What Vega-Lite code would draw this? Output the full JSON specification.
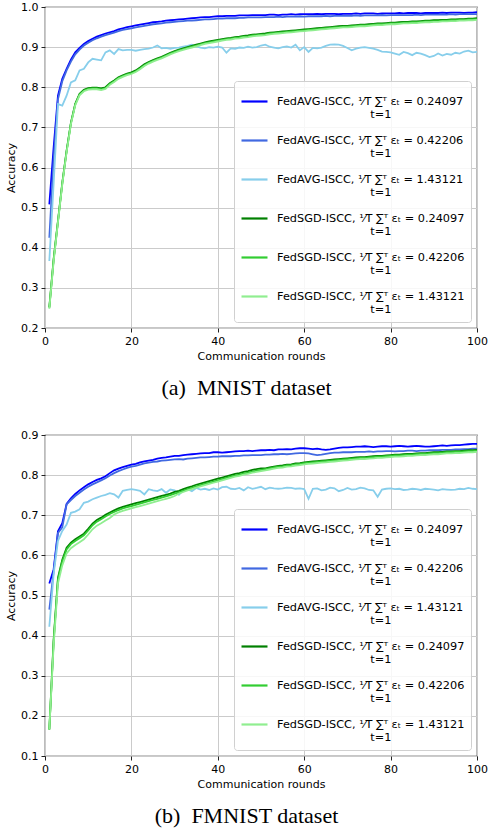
{
  "$schema": "https://vega.github.io/schema/vega-lite/v6.json",
  "padding": {"left": 4, "top": 0, "right": 10, "bottom": 0},
  "spacing": 28,
  "datasets": {
    "mnist": [
      {"r":1,"a1":0.508,"a2":0.425,"a3":0.367,"s1":0.252,"s2":0.25,"s3":0.248},
      {"r":2,"a1":0.65,"a2":0.62,"a3":0.56,"s1":0.372,"s2":0.37,"s3":0.366},
      {"r":3,"a1":0.779,"a2":0.77,"a3":0.758,"s1":0.467,"s2":0.465,"s3":0.463},
      {"r":4,"a1":0.821,"a2":0.815,"a3":0.754,"s1":0.562,"s2":0.56,"s3":0.558},
      {"r":5,"a1":0.846,"a2":0.842,"a3":0.779,"s1":0.642,"s2":0.64,"s3":0.638},
      {"r":6,"a1":0.869,"a2":0.864,"a3":0.812,"s1":0.712,"s2":0.71,"s3":0.708},
      {"r":7,"a1":0.887,"a2":0.882,"a3":0.817,"s1":0.759,"s2":0.757,"s3":0.755},
      {"r":8,"a1":0.898,"a2":0.894,"a3":0.842,"s1":0.784,"s2":0.782,"s3":0.78},
      {"r":9,"a1":0.908,"a2":0.904,"a3":0.846,"s1":0.794,"s2":0.792,"s3":0.79},
      {"r":10,"a1":0.915,"a2":0.911,"a3":0.862,"s1":0.798,"s2":0.796,"s3":0.794},
      {"r":11,"a1":0.921,"a2":0.917,"a3":0.871,"s1":0.799,"s2":0.797,"s3":0.795},
      {"r":12,"a1":0.926,"a2":0.922,"a3":0.869,"s1":0.799,"s2":0.797,"s3":0.795},
      {"r":13,"a1":0.93,"a2":0.926,"a3":0.867,"s1":0.797,"s2":0.795,"s3":0.793},
      {"r":14,"a1":0.934,"a2":0.93,"a3":0.887,"s1":0.8,"s2":0.798,"s3":0.796},
      {"r":15,"a1":0.937,"a2":0.933,"a3":0.892,"s1":0.81,"s2":0.808,"s3":0.806},
      {"r":16,"a1":0.94,"a2":0.936,"a3":0.883,"s1":0.817,"s2":0.815,"s3":0.813},
      {"r":17,"a1":0.944,"a2":0.94,"a3":0.895,"s1":0.825,"s2":0.823,"s3":0.821},
      {"r":18,"a1":0.947,"a2":0.943,"a3":0.892,"s1":0.83,"s2":0.828,"s3":0.826},
      {"r":19,"a1":0.95,"a2":0.945,"a3":0.893,"s1":0.834,"s2":0.832,"s3":0.83},
      {"r":20,"a1":0.952,"a2":0.947,"a3":0.893,"s1":0.837,"s2":0.835,"s3":0.833},
      {"r":21,"a1":0.954,"a2":0.949,"a3":0.891,"s1":0.842,"s2":0.84,"s3":0.838},
      {"r":22,"a1":0.956,"a2":0.951,"a3":0.893,"s1":0.849,"s2":0.847,"s3":0.845},
      {"r":23,"a1":0.958,"a2":0.953,"a3":0.895,"s1":0.857,"s2":0.855,"s3":0.853},
      {"r":24,"a1":0.96,"a2":0.955,"a3":0.896,"s1":0.863,"s2":0.861,"s3":0.859},
      {"r":25,"a1":0.962,"a2":0.957,"a3":0.899,"s1":0.868,"s2":0.866,"s3":0.864},
      {"r":26,"a1":0.963,"a2":0.958,"a3":0.904,"s1":0.872,"s2":0.87,"s3":0.868},
      {"r":27,"a1":0.964,"a2":0.959,"a3":0.897,"s1":0.876,"s2":0.874,"s3":0.872},
      {"r":28,"a1":0.966,"a2":0.961,"a3":0.898,"s1":0.881,"s2":0.879,"s3":0.877},
      {"r":29,"a1":0.967,"a2":0.962,"a3":0.896,"s1":0.886,"s2":0.884,"s3":0.882},
      {"r":30,"a1":0.968,"a2":0.963,"a3":0.898,"s1":0.89,"s2":0.888,"s3":0.886},
      {"r":31,"a1":0.969,"a2":0.964,"a3":0.899,"s1":0.894,"s2":0.892,"s3":0.89},
      {"r":32,"a1":0.97,"a2":0.965,"a3":0.901,"s1":0.897,"s2":0.895,"s3":0.893},
      {"r":33,"a1":0.971,"a2":0.966,"a3":0.903,"s1":0.9,"s2":0.898,"s3":0.896},
      {"r":34,"a1":0.972,"a2":0.966,"a3":0.906,"s1":0.903,"s2":0.901,"s3":0.899},
      {"r":35,"a1":0.973,"a2":0.967,"a3":0.902,"s1":0.906,"s2":0.904,"s3":0.902},
      {"r":36,"a1":0.974,"a2":0.968,"a3":0.899,"s1":0.909,"s2":0.907,"s3":0.905},
      {"r":37,"a1":0.975,"a2":0.969,"a3":0.897,"s1":0.912,"s2":0.91,"s3":0.908},
      {"r":38,"a1":0.975,"a2":0.969,"a3":0.9,"s1":0.914,"s2":0.912,"s3":0.91},
      {"r":39,"a1":0.976,"a2":0.97,"a3":0.899,"s1":0.916,"s2":0.914,"s3":0.912},
      {"r":40,"a1":0.977,"a2":0.971,"a3":0.901,"s1":0.918,"s2":0.916,"s3":0.914},
      {"r":41,"a1":0.977,"a2":0.971,"a3":0.899,"s1":0.92,"s2":0.918,"s3":0.916},
      {"r":42,"a1":0.978,"a2":0.972,"a3":0.886,"s1":0.922,"s2":0.92,"s3":0.918},
      {"r":43,"a1":0.978,"a2":0.972,"a3":0.897,"s1":0.923,"s2":0.921,"s3":0.919},
      {"r":44,"a1":0.978,"a2":0.972,"a3":0.896,"s1":0.925,"s2":0.923,"s3":0.921},
      {"r":45,"a1":0.979,"a2":0.973,"a3":0.899,"s1":0.926,"s2":0.924,"s3":0.922},
      {"r":46,"a1":0.979,"a2":0.973,"a3":0.898,"s1":0.928,"s2":0.926,"s3":0.924},
      {"r":47,"a1":0.979,"a2":0.974,"a3":0.901,"s1":0.929,"s2":0.927,"s3":0.925},
      {"r":48,"a1":0.98,"a2":0.974,"a3":0.899,"s1":0.931,"s2":0.929,"s3":0.927},
      {"r":49,"a1":0.98,"a2":0.974,"a3":0.9,"s1":0.932,"s2":0.93,"s3":0.928},
      {"r":50,"a1":0.98,"a2":0.974,"a3":0.904,"s1":0.933,"s2":0.931,"s3":0.929},
      {"r":51,"a1":0.98,"a2":0.975,"a3":0.906,"s1":0.934,"s2":0.932,"s3":0.93},
      {"r":52,"a1":0.981,"a2":0.975,"a3":0.901,"s1":0.936,"s2":0.934,"s3":0.932},
      {"r":53,"a1":0.981,"a2":0.975,"a3":0.899,"s1":0.937,"s2":0.935,"s3":0.933},
      {"r":54,"a1":0.98,"a2":0.976,"a3":0.897,"s1":0.938,"s2":0.936,"s3":0.934},
      {"r":55,"a1":0.981,"a2":0.975,"a3":0.9,"s1":0.939,"s2":0.937,"s3":0.935},
      {"r":56,"a1":0.981,"a2":0.976,"a3":0.902,"s1":0.94,"s2":0.938,"s3":0.936},
      {"r":57,"a1":0.982,"a2":0.976,"a3":0.899,"s1":0.941,"s2":0.939,"s3":0.937},
      {"r":58,"a1":0.981,"a2":0.976,"a3":0.906,"s1":0.942,"s2":0.94,"s3":0.938},
      {"r":59,"a1":0.982,"a2":0.977,"a3":0.892,"s1":0.943,"s2":0.941,"s3":0.939},
      {"r":60,"a1":0.982,"a2":0.976,"a3":0.9,"s1":0.944,"s2":0.942,"s3":0.94},
      {"r":61,"a1":0.982,"a2":0.977,"a3":0.888,"s1":0.945,"s2":0.943,"s3":0.941},
      {"r":62,"a1":0.982,"a2":0.977,"a3":0.898,"s1":0.946,"s2":0.944,"s3":0.942},
      {"r":63,"a1":0.983,"a2":0.977,"a3":0.897,"s1":0.947,"s2":0.945,"s3":0.943},
      {"r":64,"a1":0.982,"a2":0.977,"a3":0.899,"s1":0.948,"s2":0.946,"s3":0.944},
      {"r":65,"a1":0.983,"a2":0.978,"a3":0.903,"s1":0.949,"s2":0.947,"s3":0.945},
      {"r":66,"a1":0.983,"a2":0.977,"a3":0.906,"s1":0.95,"s2":0.948,"s3":0.946},
      {"r":67,"a1":0.983,"a2":0.978,"a3":0.907,"s1":0.951,"s2":0.949,"s3":0.947},
      {"r":68,"a1":0.982,"a2":0.978,"a3":0.906,"s1":0.952,"s2":0.95,"s3":0.948},
      {"r":69,"a1":0.983,"a2":0.978,"a3":0.903,"s1":0.953,"s2":0.951,"s3":0.949},
      {"r":70,"a1":0.983,"a2":0.978,"a3":0.898,"s1":0.953,"s2":0.951,"s3":0.949},
      {"r":71,"a1":0.983,"a2":0.978,"a3":0.892,"s1":0.954,"s2":0.952,"s3":0.95},
      {"r":72,"a1":0.984,"a2":0.979,"a3":0.896,"s1":0.955,"s2":0.953,"s3":0.951},
      {"r":73,"a1":0.983,"a2":0.978,"a3":0.899,"s1":0.956,"s2":0.954,"s3":0.952},
      {"r":74,"a1":0.984,"a2":0.979,"a3":0.9,"s1":0.956,"s2":0.954,"s3":0.952},
      {"r":75,"a1":0.984,"a2":0.979,"a3":0.898,"s1":0.957,"s2":0.955,"s3":0.953},
      {"r":76,"a1":0.984,"a2":0.979,"a3":0.896,"s1":0.958,"s2":0.956,"s3":0.954},
      {"r":77,"a1":0.983,"a2":0.979,"a3":0.893,"s1":0.959,"s2":0.957,"s3":0.955},
      {"r":78,"a1":0.984,"a2":0.98,"a3":0.889,"s1":0.959,"s2":0.957,"s3":0.955},
      {"r":79,"a1":0.984,"a2":0.979,"a3":0.888,"s1":0.96,"s2":0.958,"s3":0.956},
      {"r":80,"a1":0.984,"a2":0.98,"a3":0.887,"s1":0.961,"s2":0.959,"s3":0.957},
      {"r":81,"a1":0.984,"a2":0.98,"a3":0.884,"s1":0.961,"s2":0.959,"s3":0.957},
      {"r":82,"a1":0.985,"a2":0.98,"a3":0.881,"s1":0.962,"s2":0.96,"s3":0.958},
      {"r":83,"a1":0.984,"a2":0.98,"a3":0.888,"s1":0.963,"s2":0.961,"s3":0.959},
      {"r":84,"a1":0.985,"a2":0.98,"a3":0.885,"s1":0.963,"s2":0.961,"s3":0.959},
      {"r":85,"a1":0.985,"a2":0.98,"a3":0.88,"s1":0.964,"s2":0.962,"s3":0.96},
      {"r":86,"a1":0.985,"a2":0.981,"a3":0.886,"s1":0.964,"s2":0.962,"s3":0.96},
      {"r":87,"a1":0.984,"a2":0.98,"a3":0.884,"s1":0.965,"s2":0.963,"s3":0.961},
      {"r":88,"a1":0.985,"a2":0.981,"a3":0.88,"s1":0.966,"s2":0.964,"s3":0.962},
      {"r":89,"a1":0.985,"a2":0.981,"a3":0.875,"s1":0.966,"s2":0.964,"s3":0.962},
      {"r":90,"a1":0.985,"a2":0.981,"a3":0.878,"s1":0.967,"s2":0.965,"s3":0.963},
      {"r":91,"a1":0.985,"a2":0.981,"a3":0.884,"s1":0.967,"s2":0.965,"s3":0.963},
      {"r":92,"a1":0.986,"a2":0.981,"a3":0.879,"s1":0.968,"s2":0.966,"s3":0.964},
      {"r":93,"a1":0.985,"a2":0.981,"a3":0.883,"s1":0.968,"s2":0.966,"s3":0.964},
      {"r":94,"a1":0.986,"a2":0.982,"a3":0.881,"s1":0.969,"s2":0.967,"s3":0.965},
      {"r":95,"a1":0.986,"a2":0.981,"a3":0.886,"s1":0.969,"s2":0.967,"s3":0.965},
      {"r":96,"a1":0.986,"a2":0.982,"a3":0.884,"s1":0.97,"s2":0.968,"s3":0.966},
      {"r":97,"a1":0.985,"a2":0.982,"a3":0.889,"s1":0.97,"s2":0.968,"s3":0.966},
      {"r":98,"a1":0.986,"a2":0.982,"a3":0.891,"s1":0.971,"s2":0.969,"s3":0.967},
      {"r":99,"a1":0.986,"a2":0.982,"a3":0.887,"s1":0.971,"s2":0.969,"s3":0.967},
      {"r":100,"a1":0.987,"a2":0.982,"a3":0.888,"s1":0.972,"s2":0.97,"s3":0.968}
    ],
    "fmnist": [
      {"r":1,"a1":0.53,"a2":0.465,"a3":0.422,"s1":0.166,"s2":0.166,"s3":0.166},
      {"r":2,"a1":0.565,"a2":0.56,"a3":0.553,"s1":0.39,"s2":0.385,"s3":0.375},
      {"r":3,"a1":0.66,"a2":0.656,"a3":0.636,"s1":0.544,"s2":0.54,"s3":0.53},
      {"r":4,"a1":0.68,"a2":0.67,"a3":0.661,"s1":0.589,"s2":0.585,"s3":0.575},
      {"r":5,"a1":0.728,"a2":0.727,"a3":0.677,"s1":0.619,"s2":0.615,"s3":0.605},
      {"r":6,"a1":0.742,"a2":0.738,"a3":0.706,"s1":0.632,"s2":0.628,"s3":0.618},
      {"r":7,"a1":0.753,"a2":0.748,"a3":0.709,"s1":0.64,"s2":0.636,"s3":0.626},
      {"r":8,"a1":0.762,"a2":0.756,"a3":0.715,"s1":0.647,"s2":0.643,"s3":0.633},
      {"r":9,"a1":0.77,"a2":0.764,"a3":0.731,"s1":0.654,"s2":0.65,"s3":0.64},
      {"r":10,"a1":0.777,"a2":0.771,"a3":0.734,"s1":0.666,"s2":0.662,"s3":0.652},
      {"r":11,"a1":0.783,"a2":0.777,"a3":0.74,"s1":0.679,"s2":0.675,"s3":0.665},
      {"r":12,"a1":0.788,"a2":0.782,"a3":0.744,"s1":0.688,"s2":0.684,"s3":0.674},
      {"r":13,"a1":0.792,"a2":0.787,"a3":0.748,"s1":0.694,"s2":0.69,"s3":0.68},
      {"r":14,"a1":0.797,"a2":0.792,"a3":0.751,"s1":0.701,"s2":0.697,"s3":0.687},
      {"r":15,"a1":0.805,"a2":0.799,"a3":0.755,"s1":0.707,"s2":0.703,"s3":0.693},
      {"r":16,"a1":0.812,"a2":0.805,"a3":0.752,"s1":0.712,"s2":0.708,"s3":0.702},
      {"r":17,"a1":0.816,"a2":0.81,"a3":0.744,"s1":0.717,"s2":0.713,"s3":0.707},
      {"r":18,"a1":0.82,"a2":0.814,"a3":0.761,"s1":0.721,"s2":0.717,"s3":0.711},
      {"r":19,"a1":0.823,"a2":0.818,"a3":0.763,"s1":0.724,"s2":0.72,"s3":0.714},
      {"r":20,"a1":0.826,"a2":0.821,"a3":0.765,"s1":0.727,"s2":0.723,"s3":0.717},
      {"r":21,"a1":0.828,"a2":0.823,"a3":0.763,"s1":0.73,"s2":0.726,"s3":0.72},
      {"r":22,"a1":0.832,"a2":0.826,"a3":0.761,"s1":0.733,"s2":0.729,"s3":0.723},
      {"r":23,"a1":0.834,"a2":0.829,"a3":0.752,"s1":0.736,"s2":0.732,"s3":0.726},
      {"r":24,"a1":0.836,"a2":0.831,"a3":0.765,"s1":0.739,"s2":0.735,"s3":0.729},
      {"r":25,"a1":0.838,"a2":0.833,"a3":0.762,"s1":0.742,"s2":0.738,"s3":0.732},
      {"r":26,"a1":0.841,"a2":0.834,"a3":0.76,"s1":0.745,"s2":0.741,"s3":0.735},
      {"r":27,"a1":0.843,"a2":0.836,"a3":0.765,"s1":0.748,"s2":0.744,"s3":0.738},
      {"r":28,"a1":0.844,"a2":0.837,"a3":0.756,"s1":0.751,"s2":0.747,"s3":0.741},
      {"r":29,"a1":0.846,"a2":0.838,"a3":0.764,"s1":0.754,"s2":0.75,"s3":0.744},
      {"r":30,"a1":0.848,"a2":0.839,"a3":0.762,"s1":0.758,"s2":0.754,"s3":0.748},
      {"r":31,"a1":0.848,"a2":0.84,"a3":0.751,"s1":0.761,"s2":0.757,"s3":0.754},
      {"r":32,"a1":0.85,"a2":0.839,"a3":0.762,"s1":0.765,"s2":0.761,"s3":0.758},
      {"r":33,"a1":0.851,"a2":0.841,"a3":0.765,"s1":0.769,"s2":0.765,"s3":0.762},
      {"r":34,"a1":0.852,"a2":0.842,"a3":0.76,"s1":0.772,"s2":0.768,"s3":0.765},
      {"r":35,"a1":0.853,"a2":0.843,"a3":0.768,"s1":0.776,"s2":0.772,"s3":0.769},
      {"r":36,"a1":0.854,"a2":0.844,"a3":0.764,"s1":0.779,"s2":0.775,"s3":0.772},
      {"r":37,"a1":0.855,"a2":0.844,"a3":0.766,"s1":0.782,"s2":0.778,"s3":0.775},
      {"r":38,"a1":0.855,"a2":0.845,"a3":0.763,"s1":0.785,"s2":0.781,"s3":0.778},
      {"r":39,"a1":0.857,"a2":0.846,"a3":0.767,"s1":0.788,"s2":0.784,"s3":0.781},
      {"r":40,"a1":0.857,"a2":0.846,"a3":0.764,"s1":0.791,"s2":0.787,"s3":0.784},
      {"r":41,"a1":0.856,"a2":0.847,"a3":0.77,"s1":0.794,"s2":0.79,"s3":0.787},
      {"r":42,"a1":0.857,"a2":0.847,"a3":0.771,"s1":0.797,"s2":0.793,"s3":0.79},
      {"r":43,"a1":0.858,"a2":0.847,"a3":0.766,"s1":0.8,"s2":0.796,"s3":0.793},
      {"r":44,"a1":0.859,"a2":0.848,"a3":0.765,"s1":0.803,"s2":0.799,"s3":0.796},
      {"r":45,"a1":0.86,"a2":0.848,"a3":0.768,"s1":0.805,"s2":0.801,"s3":0.798},
      {"r":46,"a1":0.86,"a2":0.849,"a3":0.762,"s1":0.808,"s2":0.804,"s3":0.801},
      {"r":47,"a1":0.861,"a2":0.849,"a3":0.77,"s1":0.81,"s2":0.806,"s3":0.803},
      {"r":48,"a1":0.86,"a2":0.85,"a3":0.766,"s1":0.813,"s2":0.809,"s3":0.806},
      {"r":49,"a1":0.861,"a2":0.85,"a3":0.768,"s1":0.815,"s2":0.811,"s3":0.808},
      {"r":50,"a1":0.862,"a2":0.85,"a3":0.771,"s1":0.817,"s2":0.813,"s3":0.81},
      {"r":51,"a1":0.862,"a2":0.851,"a3":0.765,"s1":0.817,"s2":0.815,"s3":0.812},
      {"r":52,"a1":0.863,"a2":0.851,"a3":0.769,"s1":0.819,"s2":0.817,"s3":0.814},
      {"r":53,"a1":0.862,"a2":0.852,"a3":0.767,"s1":0.821,"s2":0.819,"s3":0.816},
      {"r":54,"a1":0.864,"a2":0.852,"a3":0.766,"s1":0.823,"s2":0.821,"s3":0.818},
      {"r":55,"a1":0.864,"a2":0.853,"a3":0.767,"s1":0.824,"s2":0.822,"s3":0.819},
      {"r":56,"a1":0.865,"a2":0.852,"a3":0.769,"s1":0.826,"s2":0.824,"s3":0.821},
      {"r":57,"a1":0.864,"a2":0.853,"a3":0.768,"s1":0.827,"s2":0.825,"s3":0.822},
      {"r":58,"a1":0.866,"a2":0.854,"a3":0.766,"s1":0.829,"s2":0.827,"s3":0.824},
      {"r":59,"a1":0.867,"a2":0.855,"a3":0.767,"s1":0.83,"s2":0.828,"s3":0.825},
      {"r":60,"a1":0.867,"a2":0.855,"a3":0.765,"s1":0.832,"s2":0.83,"s3":0.827},
      {"r":61,"a1":0.866,"a2":0.854,"a3":0.741,"s1":0.833,"s2":0.831,"s3":0.828},
      {"r":62,"a1":0.865,"a2":0.852,"a3":0.766,"s1":0.834,"s2":0.832,"s3":0.829},
      {"r":63,"a1":0.866,"a2":0.85,"a3":0.767,"s1":0.835,"s2":0.833,"s3":0.83},
      {"r":64,"a1":0.864,"a2":0.851,"a3":0.762,"s1":0.836,"s2":0.834,"s3":0.831},
      {"r":65,"a1":0.863,"a2":0.853,"a3":0.764,"s1":0.837,"s2":0.835,"s3":0.832},
      {"r":66,"a1":0.864,"a2":0.855,"a3":0.769,"s1":0.838,"s2":0.836,"s3":0.833},
      {"r":67,"a1":0.866,"a2":0.856,"a3":0.767,"s1":0.839,"s2":0.837,"s3":0.834},
      {"r":68,"a1":0.868,"a2":0.856,"a3":0.76,"s1":0.84,"s2":0.838,"s3":0.835},
      {"r":69,"a1":0.869,"a2":0.857,"a3":0.763,"s1":0.841,"s2":0.839,"s3":0.836},
      {"r":70,"a1":0.869,"a2":0.857,"a3":0.768,"s1":0.842,"s2":0.84,"s3":0.837},
      {"r":71,"a1":0.87,"a2":0.857,"a3":0.764,"s1":0.843,"s2":0.841,"s3":0.838},
      {"r":72,"a1":0.871,"a2":0.858,"a3":0.765,"s1":0.844,"s2":0.842,"s3":0.839},
      {"r":73,"a1":0.871,"a2":0.858,"a3":0.769,"s1":0.845,"s2":0.843,"s3":0.84},
      {"r":74,"a1":0.872,"a2":0.858,"a3":0.767,"s1":0.845,"s2":0.843,"s3":0.84},
      {"r":75,"a1":0.871,"a2":0.859,"a3":0.763,"s1":0.846,"s2":0.844,"s3":0.841},
      {"r":76,"a1":0.87,"a2":0.858,"a3":0.762,"s1":0.847,"s2":0.845,"s3":0.842},
      {"r":77,"a1":0.871,"a2":0.859,"a3":0.746,"s1":0.848,"s2":0.846,"s3":0.843},
      {"r":78,"a1":0.872,"a2":0.859,"a3":0.764,"s1":0.848,"s2":0.846,"s3":0.843},
      {"r":79,"a1":0.872,"a2":0.86,"a3":0.766,"s1":0.849,"s2":0.847,"s3":0.844},
      {"r":80,"a1":0.871,"a2":0.86,"a3":0.767,"s1":0.85,"s2":0.848,"s3":0.845},
      {"r":81,"a1":0.872,"a2":0.859,"a3":0.765,"s1":0.851,"s2":0.849,"s3":0.846},
      {"r":82,"a1":0.873,"a2":0.86,"a3":0.766,"s1":0.851,"s2":0.849,"s3":0.846},
      {"r":83,"a1":0.872,"a2":0.86,"a3":0.763,"s1":0.852,"s2":0.85,"s3":0.847},
      {"r":84,"a1":0.871,"a2":0.861,"a3":0.764,"s1":0.853,"s2":0.851,"s3":0.848},
      {"r":85,"a1":0.872,"a2":0.861,"a3":0.766,"s1":0.853,"s2":0.851,"s3":0.848},
      {"r":86,"a1":0.873,"a2":0.86,"a3":0.765,"s1":0.854,"s2":0.852,"s3":0.849},
      {"r":87,"a1":0.872,"a2":0.861,"a3":0.763,"s1":0.855,"s2":0.853,"s3":0.85},
      {"r":88,"a1":0.871,"a2":0.861,"a3":0.766,"s1":0.855,"s2":0.853,"s3":0.85},
      {"r":89,"a1":0.871,"a2":0.862,"a3":0.765,"s1":0.856,"s2":0.854,"s3":0.851},
      {"r":90,"a1":0.872,"a2":0.862,"a3":0.764,"s1":0.857,"s2":0.855,"s3":0.852},
      {"r":91,"a1":0.873,"a2":0.862,"a3":0.762,"s1":0.857,"s2":0.855,"s3":0.852},
      {"r":92,"a1":0.874,"a2":0.863,"a3":0.765,"s1":0.858,"s2":0.856,"s3":0.853},
      {"r":93,"a1":0.873,"a2":0.863,"a3":0.764,"s1":0.859,"s2":0.857,"s3":0.854},
      {"r":94,"a1":0.874,"a2":0.863,"a3":0.763,"s1":0.859,"s2":0.857,"s3":0.854},
      {"r":95,"a1":0.875,"a2":0.864,"a3":0.764,"s1":0.86,"s2":0.858,"s3":0.855},
      {"r":96,"a1":0.875,"a2":0.864,"a3":0.766,"s1":0.86,"s2":0.858,"s3":0.855},
      {"r":97,"a1":0.876,"a2":0.865,"a3":0.765,"s1":0.861,"s2":0.859,"s3":0.856},
      {"r":98,"a1":0.877,"a2":0.865,"a3":0.768,"s1":0.862,"s2":0.86,"s3":0.857},
      {"r":99,"a1":0.878,"a2":0.866,"a3":0.766,"s1":0.862,"s2":0.86,"s3":0.857},
      {"r":100,"a1":0.878,"a2":0.866,"a3":0.765,"s1":0.863,"s2":0.861,"s3":0.858}
    ]
  },
  "vconcat": [
    {
      "width": 432,
      "height": 321,
      "data": {"name": "mnist"},
      "transform": [{"fold": ["a1", "a2", "a3", "s1", "s2", "s3"], "as": ["series", "acc"]}],
      "mark": {"type": "line", "strokeWidth": 1.8},
      "encoding": {
        "x": {
          "field": "r",
          "type": "quantitative",
          "scale": {"domain": [0, 100], "nice": false},
          "axis": {"title": "Communication rounds", "values": [0, 20, 40, 60, 80, 100]}
        },
        "y": {
          "field": "acc",
          "type": "quantitative",
          "scale": {"domain": [0.2, 1.0], "nice": false, "zero": false},
          "axis": {"title": "Accuracy", "values": [0.2, 0.3, 0.4, 0.5, 0.6, 0.7, 0.8, 0.9, 1.0], "format": ".1f"}
        },
        "color": {
          "field": "series",
          "type": "nominal",
          "scale": {
            "domain": ["a1", "a2", "a3", "s1", "s2", "s3"],
            "range": ["#0000ff", "#4169e1", "#87ceeb", "#008000", "#32cd32", "#90ee90"]
          },
          "legend": {
            "title": null,
            "labelExpr": "[(substring(datum.value, 0, 1) == 'a' ? 'FedAVG' : 'FedSGD') + '-ISCC, \u00b9\u2044T \u2211\u1d40 \u03b5\u209c = ' + (substring(datum.value, 1, 2) == '1' ? '0.24097' : substring(datum.value, 1, 2) == '2' ? '0.42206' : '1.43121'), '\u200b\u00a0\u00a0\u00a0\u00a0\u00a0\u00a0\u00a0\u00a0\u00a0\u00a0\u00a0\u00a0\u00a0\u00a0\u00a0\u00a0\u00a0\u00a0\u00a0\u00a0\u00a0\u00a0\u00a0\u00a0\u00a0\u00a0t=1']"
          }
        }
      },
      "title": {"text": "(a)\u00a0\u00a0MNIST dataset"}
    },
    {
      "width": 432,
      "height": 321,
      "data": {"name": "fmnist"},
      "transform": [{"fold": ["a1", "a2", "a3", "s1", "s2", "s3"], "as": ["series", "acc"]}],
      "mark": {"type": "line", "strokeWidth": 1.8},
      "encoding": {
        "x": {
          "field": "r",
          "type": "quantitative",
          "scale": {"domain": [0, 100], "nice": false},
          "axis": {"title": "Communication rounds", "values": [0, 20, 40, 60, 80, 100]}
        },
        "y": {
          "field": "acc",
          "type": "quantitative",
          "scale": {"domain": [0.1, 0.9], "nice": false, "zero": false},
          "axis": {"title": "Accuracy", "values": [0.1, 0.2, 0.3, 0.4, 0.5, 0.6, 0.7, 0.8, 0.9], "format": ".1f"}
        },
        "color": {
          "field": "series",
          "type": "nominal",
          "scale": {
            "domain": ["a1", "a2", "a3", "s1", "s2", "s3"],
            "range": ["#0000ff", "#4169e1", "#87ceeb", "#008000", "#32cd32", "#90ee90"]
          },
          "legend": {
            "title": null,
            "labelExpr": "[(substring(datum.value, 0, 1) == 'a' ? 'FedAVG' : 'FedSGD') + '-ISCC, \u00b9\u2044T \u2211\u1d40 \u03b5\u209c = ' + (substring(datum.value, 1, 2) == '1' ? '0.24097' : substring(datum.value, 1, 2) == '2' ? '0.42206' : '1.43121'), '\u200b\u00a0\u00a0\u00a0\u00a0\u00a0\u00a0\u00a0\u00a0\u00a0\u00a0\u00a0\u00a0\u00a0\u00a0\u00a0\u00a0\u00a0\u00a0\u00a0\u00a0\u00a0\u00a0\u00a0\u00a0\u00a0\u00a0t=1']"
          }
        }
      },
      "title": {"text": "(b)\u00a0\u00a0FMNIST dataset"}
    }
  ],
  "resolve": {"scale": {"color": "independent", "y": "independent"}, "legend": {"color": "independent"}},
  "config": {
    "font": "DejaVu Sans",
    "view": {"stroke": "#222222", "strokeWidth": 1.2},
    "axis": {
      "domain": false,
      "labelFont": "DejaVu Sans",
      "labelFontSize": 11,
      "labelColor": "#000000",
      "labelFlush": false,
      "labelPadding": 3,
      "titleFont": "DejaVu Sans",
      "titleFontSize": 11,
      "titleFontWeight": "normal",
      "titleColor": "#000000",
      "titlePadding": 4,
      "gridColor": "#cbcbcb",
      "gridWidth": 1,
      "tickColor": "#222222",
      "tickSize": 4
    },
    "legend": {
      "orient": "bottom-right",
      "offset": 6,
      "symbolType": "stroke",
      "symbolSize": 676,
      "symbolStrokeWidth": 2.2,
      "labelFont": "DejaVu Sans",
      "labelFontSize": 11.3,
      "labelColor": "#000000",
      "labelLimit": 320,
      "labelOffset": 8,
      "rowPadding": 5,
      "padding": 6,
      "fillColor": "rgba(255,255,255,0.85)",
      "strokeColor": "#d0d0d0",
      "cornerRadius": 3
    },
    "title": {
      "orient": "bottom",
      "anchor": "middle",
      "frame": "bounds",
      "font": "Liberation Serif",
      "fontSize": 22,
      "fontWeight": "normal",
      "color": "#000000",
      "offset": 17
    }
  }
}
